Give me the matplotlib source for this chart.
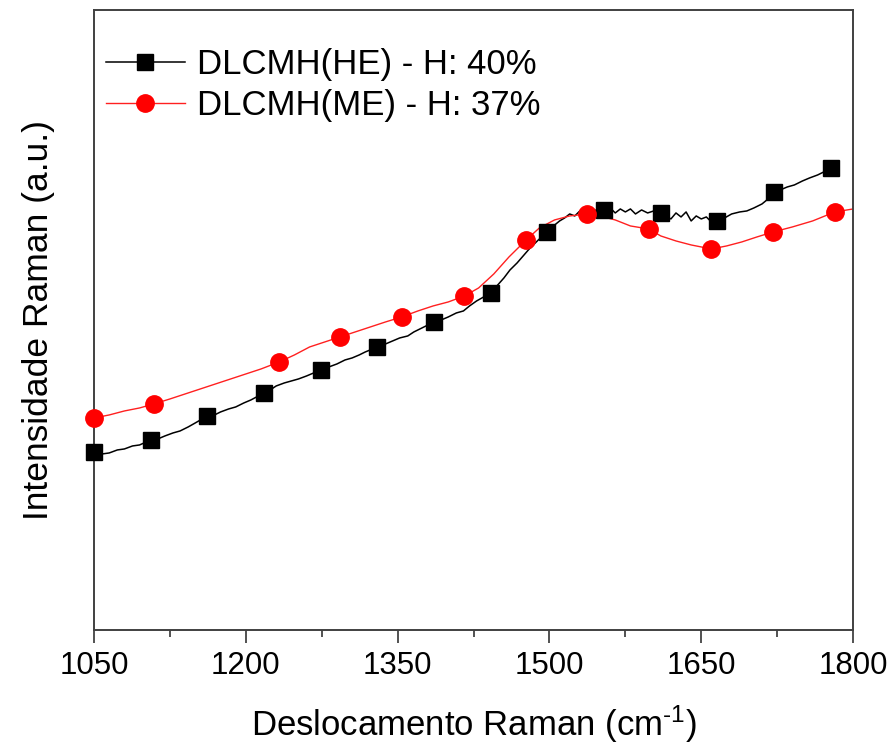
import matplotlib
matplotlib.use("Agg")
import matplotlib.pyplot as plt

plt.rcParams['font.family'] = ['Liberation Sans', 'DejaVu Sans']
plt.rcParams['mathtext.fontset'] = 'custom'
plt.rcParams['mathtext.rm'] = 'Liberation Sans'
plt.rcParams['mathtext.it'] = 'Liberation Sans'

# ---- data (arbitrary intensity units) ----
he_line_x = [1050, 1058, 1065, 1073, 1080, 1088, 1095, 1106, 1113, 1120, 1128, 1135, 1143, 1150,
             1162, 1169, 1175, 1183, 1190, 1198, 1205, 1218, 1224, 1230, 1238, 1245, 1252, 1260,
             1274, 1282, 1290, 1298, 1305, 1312, 1318, 1330, 1338, 1345, 1352, 1360, 1366, 1372,
             1386, 1393, 1400, 1408, 1415, 1421, 1428, 1442, 1448, 1455, 1461, 1468, 1474, 1480,
             1489, 1498, 1504, 1510, 1515, 1520, 1525, 1530, 1535, 1540, 1547, 1554, 1559, 1565,
             1570, 1575, 1580, 1585, 1591, 1597, 1603, 1610, 1615, 1620, 1625, 1630, 1635, 1640,
             1645, 1650, 1655, 1660, 1666, 1673, 1680, 1688, 1695, 1702, 1710, 1716, 1722, 1728,
             1735, 1742, 1750, 1757, 1765, 1771, 1778, 1783]
he_line_y = [178, 176, 177, 180, 181, 184, 185, 190, 191, 194, 197, 199, 203, 207,
             214, 215, 218, 221, 223, 227, 230, 237, 240, 244, 247, 249, 251, 254,
             260, 263, 266, 270, 272, 275, 278, 283, 286, 289, 292, 294, 298, 301,
             308, 310, 313, 317, 319, 324, 329, 337, 344, 352, 360, 367, 374, 381,
             390, 398, 404, 409, 412, 416, 414, 419, 417, 422, 419, 420, 423, 417,
             421, 418, 421, 416, 420, 417, 419, 417, 414, 411, 417, 413, 418, 409,
             414, 411, 413, 408, 409, 412, 416, 418, 419, 422, 426, 431, 438, 440,
             443, 445, 449, 452, 455, 458, 462, 464]

he_mark_x = [1050, 1106, 1162, 1218, 1274, 1330, 1386, 1442, 1498, 1554, 1610, 1666, 1722, 1778]
he_mark_y = [178, 190, 214, 237, 260, 283, 308, 337, 398, 420, 417, 409, 438, 462]

me_line_x = [1050, 1065, 1080, 1095, 1109, 1125, 1140, 1155, 1170, 1185, 1200, 1215, 1233,
             1248, 1263, 1278, 1293, 1308, 1323, 1338, 1354, 1370, 1385, 1400, 1416, 1430,
             1445, 1460, 1477, 1490, 1505, 1520, 1537, 1550, 1565, 1580, 1598, 1610, 1625,
             1640, 1660, 1675, 1690, 1705, 1721, 1740, 1760, 1782, 1800]
me_line_y = [212, 215, 219, 222, 226, 231, 236, 241, 246, 251, 256, 261, 268,
             275, 283, 288, 293, 298, 303, 308, 313, 319, 324, 328, 334, 342,
             356, 373, 390, 402, 410, 414, 416, 414, 410, 404, 401, 394, 389,
             385, 381, 384, 388, 393, 398, 403, 409, 418, 421]

me_mark_x = [1050, 1109, 1233, 1293, 1354, 1416, 1477, 1537, 1598, 1660, 1721, 1782]
me_mark_y = [212, 226, 268, 293, 313, 334, 390, 416, 401, 381, 398, 418]

labels = ['DLCMH(HE) - H: 40%', 'DLCMH(ME) - H: 37%']
x_ticks = [1050, 1200, 1350, 1500, 1650, 1800]

# ---- figure ----
fig = plt.figure(figsize=(8.93, 7.48), dpi=100)
ax = fig.add_axes([0.1053, 0.1578, 0.85, 0.8289])

ax.plot(he_line_x, he_line_y, color='black', lw=1.1, zorder=2)
ax.plot(he_mark_x, he_mark_y, ls='none', marker='s', ms=11, color='black', zorder=3, clip_on=False)
ax.plot(me_line_x, me_line_y, color='#ff2020', lw=1.0, zorder=2)
ax.plot(me_mark_x, me_mark_y, ls='none', marker='o', ms=12.5, color='#ff0000', zorder=3, clip_on=False)

# legend proxies
h1, = ax.plot([], [], color='black', lw=1.1, marker='s', ms=11)
h2, = ax.plot([], [], color='#ff2020', lw=1.0, marker='o', ms=12.5, mfc='#ff0000', mec='#ff0000')
ax.legend([h1, h2], labels, loc='upper left', bbox_to_anchor=(-0.0066, 0.967), frameon=False,
          fontsize=25, handlelength=2.25, handletextpad=0.35, labelspacing=0.24,
          borderaxespad=0.3, borderpad=0.2)

ax.set_xlim(1050, 1800)
ax.set_ylim(0, 620)
ax.set_xticks(x_ticks)
ax.set_xticks([1125, 1275, 1425, 1575, 1725], minor=True)
ax.set_yticks([])
ax.tick_params(axis='x', which='major', direction='out', length=9, width=1.2,
               labelsize=22.5, pad=6, color='#333333')
ax.tick_params(axis='x', which='minor', direction='out', length=5, width=1.2, color='#333333')

for s in ax.spines.values():
    s.set_linewidth(1.4)
    s.set_color('#404040')

ax.set_xlabel(r'Deslocamento Raman (cm$^{\text{-}1}$)', fontsize=25, labelpad=16)
ax.set_ylabel('Intensidade Raman (a.u.)', fontsize=25.5, labelpad=28)

fig.savefig('out.png', dpi=100)
